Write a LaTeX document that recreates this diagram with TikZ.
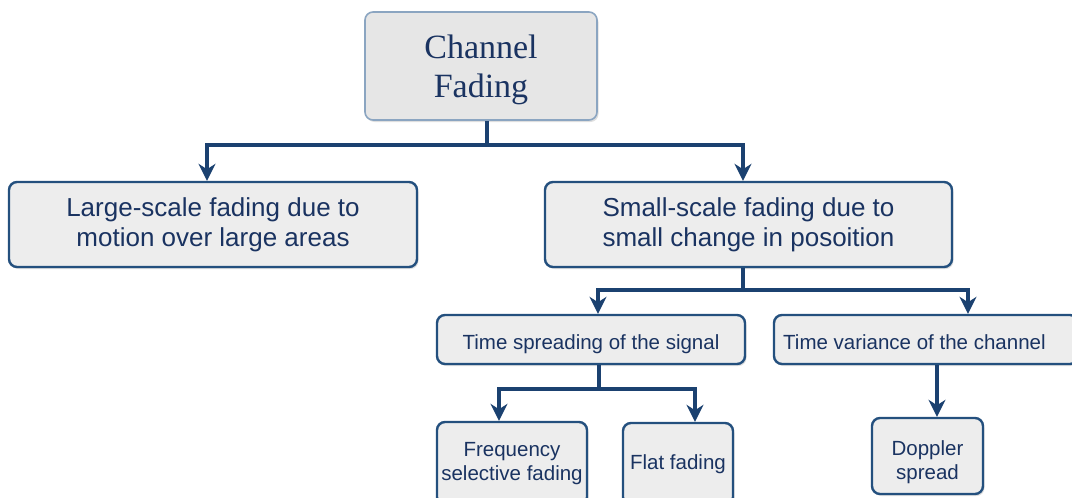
\documentclass[tikz,border=0pt]{standalone}
\usepackage{fontspec}
\setmainfont{Liberation Serif}
\setsansfont{Liberation Sans}
\usetikzlibrary{arrows.meta,shadows}
\definecolor{linecol}{HTML}{1B4170}
\definecolor{boxborder}{HTML}{24507E}
\definecolor{boxfill}{HTML}{EDEDED}
\definecolor{topborder}{HTML}{8BA5C1}
\definecolor{topfill}{HTML}{E6E6E6}
\definecolor{textcol}{HTML}{1A3361}
\tikzset{
  basebox/.style={rectangle, rounded corners=8pt, inner sep=0pt, text=textcol, align=center,
    drop shadow={shadow xshift=1.5pt, shadow yshift=-2pt, opacity=0.25, fill=gray}},
  topbox/.style={basebox, draw=topborder, line width=1.6pt, fill=topfill,
    font=\rmfamily\fontsize{34pt}{39pt}\selectfont},
  bigbox/.style={basebox, draw=boxborder, line width=2.4pt, fill=boxfill,
    font=\sffamily\fontsize{26pt}{30pt}\selectfont},
  smallbox/.style={basebox, draw=boxborder, line width=2.4pt, fill=boxfill,
    font=\sffamily\fontsize{20.5pt}{23.5pt}\selectfont},
  toptext/.style={inner sep=0pt, text=textcol, align=center, font=\rmfamily\fontsize{34pt}{39pt}\selectfont},
  smalltext/.style={inner sep=0pt, text=textcol, align=center, font=\sffamily\fontsize{20.5pt}{23.5pt}\selectfont},
  conn/.style={draw=linecol, line width=3.2pt},
  arr/.style={conn, -{Stealth[length=17pt,width=17pt,inset=5.5pt]}}
}
\begin{document}
\begin{tikzpicture}[x=1pt,y=1pt]
\useasboundingbox (0,0) rectangle (1072,-498);
% boxes
\node[topbox, minimum width=232pt, minimum height=108pt] (top) at (481,-66) {};
\node[toptext] (topT) at (481,-70) {Channel\\Fading};
\node[bigbox, minimum width=408pt, minimum height=85pt] (large) at (213,-224.5) {Large-scale fading due to\\motion over large areas};
\node[bigbox, minimum width=407pt, minimum height=85pt] (small) at (748.5,-224.5) {Small-scale fading due to\\small change in posoition};
\node[smallbox, minimum width=308pt, minimum height=49pt] (spread) at (591,-339.5) {};
\node[smalltext] (spreadT) at (591,-344) {Time spreading of the signal};
\node[smallbox, minimum width=304pt, minimum height=49pt] (var) at (926,-339.5) {};
\node[smalltext, anchor=west] (varT) at (783,-342.5) {Time variance of the channel};
\node[smallbox, minimum width=150pt, minimum height=83pt] (freq) at (512,-463.5) {Frequency\\selective fading};
\node[smallbox, minimum width=110pt, minimum height=82pt] (flat) at (678,-464) {Flat fading};
\node[smallbox, minimum width=111pt, minimum height=76pt] (dop) at (927.5,-456) {};
\node[smalltext] (dopT) at (927.5,-462) {Doppler\\spread};
% junctions
\coordinate (h1) at (487,-145);
\coordinate (h2) at (743,-290);
\coordinate (h3) at (599,-389);
% connectors
\draw[conn] ([xshift=6pt]top.south) -- (h1);
\draw[arr] (h1) -| ([xshift=-6pt]large.north);
\draw[arr] (h1) -| ([xshift=-5.5pt]small.north);
\draw[conn] ([xshift=-5.5pt]small.south) -- (h2);
\draw[arr] (h2) -| ([xshift=7pt]spread.north);
\draw[arr] (h2) -| ([xshift=42pt]var.north);
\draw[conn] ([xshift=8pt]spread.south) -- (h3);
\draw[arr] (h3) -| ([xshift=-13pt]freq.north);
\draw[arr] (h3) -| ([xshift=17pt]flat.north);
\draw[arr] ([xshift=9.5pt]dop.north |- var.south) -- ([xshift=9.5pt]dop.north);
\end{tikzpicture}
\end{document}
